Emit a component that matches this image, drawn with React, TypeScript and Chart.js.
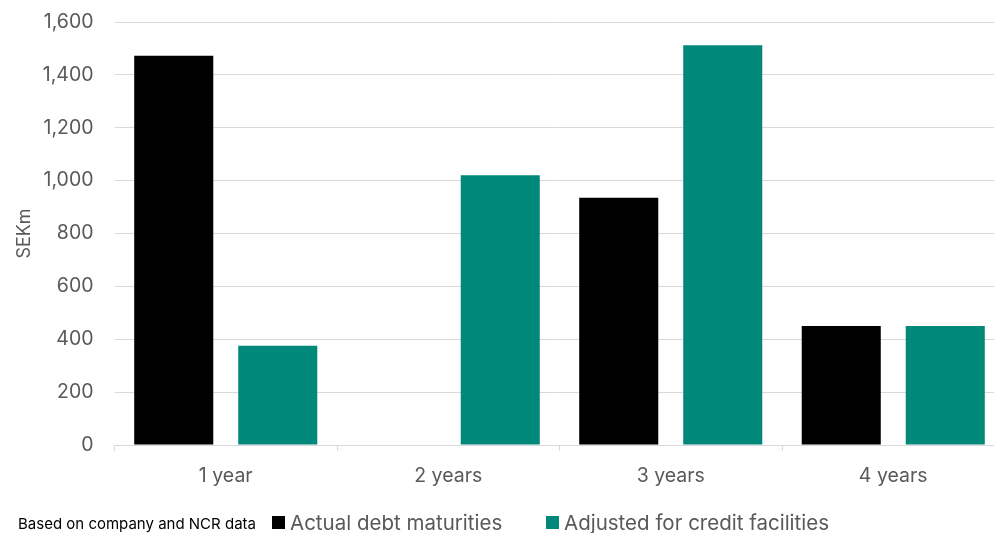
import React, { useEffect, useRef } from "react";
import { Chart, registerables } from "chart.js";

Chart.register(...registerables);

const categories = ["1 year", "2 years", "3 years", "4 years"];
const actualDebt = [1472, 0, 935, 450];
const adjustedCredit = [375, 1020, 1512, 450];
const seriesLabels = ["Actual debt maturities", "Adjusted for credit facilities"];
const seriesColors = ["#000000", "#00887a"];
const yTicks = [0, 200, 400, 600, 800, 1000, 1200, 1400, 1600];
const footnote = "Based on company and NCR data";

const FONT = "Inter, 'Noto Sans', sans-serif";
const GREY = "#595959";

export default function App() {
  const ref = useRef<HTMLCanvasElement | null>(null);
  useEffect(() => {
    if (!ref.current) return;
    const chart = new Chart(ref.current, {
      type: "bar",
      data: {
        labels: categories,
        datasets: [
          { label: seriesLabels[0], data: actualDebt, backgroundColor: seriesColors[0], categoryPercentage: 0.935, barPercentage: 0.76 },
          { label: seriesLabels[1], data: adjustedCredit, backgroundColor: seriesColors[1], categoryPercentage: 0.935, barPercentage: 0.76 },
        ],
      },
      options: {
        animation: false,
        responsive: false,
        maintainAspectRatio: false,
        layout: { padding: { top: 22, right: 5.5, left: 0, bottom: 0 } },
        plugins: { legend: { display: false }, tooltip: { enabled: false } },
        scales: {
          x: {
            grid: { drawOnChartArea: false, color: "#d9d9d9", tickLength: 6, offset: true },
            border: { color: "#d9d9d9", width: 1 },
            ticks: { color: GREY, font: { family: FONT, size: 19.5 }, padding: 13 },
            afterFit: (s: any) => { s.height = 88; s.paddingLeft = 0; s.paddingRight = 0; },
          },
          y: {
            min: 0,
            max: 1600,
            afterBuildTicks: (s: any) => { s.ticks = yTicks.map((v) => ({ value: v })); },
            grid: { color: "#d9d9d9", drawTicks: false, lineWidth: 1 },
            border: { display: false },
            ticks: {
              color: GREY,
              font: { family: FONT, size: 19.5 },
              padding: 21,
              callback: (v: any) => Number(v).toLocaleString("en-US"),
            },
            title: { display: true, text: "SEKm", color: GREY, font: { family: FONT, size: 18 }, padding: { top: 14, bottom: 0 } },
            afterFit: (s: any) => { s.width = 114.5; s.paddingTop = 0; s.paddingBottom = 0; },
          },
        },
      },
    });
    return () => chart.destroy();
  }, []);

  return (
    <div style={{ position: "absolute", left: 0, top: 0, width: 1010, height: 533, overflow: "hidden" }}>
      <canvas ref={ref} width={1010} height={533} style={{ display: "block" }} />
      <div style={{ position: "absolute", left: 18, top: 514, fontFamily: FONT, fontSize: 15, color: "#000", whiteSpace: "nowrap" }}>
        {footnote}
      </div>
      {seriesLabels.map((lab, i) => (
        <div key={lab} style={{ position: "absolute", left: i === 0 ? 272 : 546, top: 510, display: "flex", alignItems: "center", fontFamily: FONT, fontSize: 20.5, color: GREY, whiteSpace: "nowrap" }}>
          <span style={{ width: 13, height: 13, background: seriesColors[i], display: "inline-block", marginRight: 5 }} />
          {lab}
        </div>
      ))}
    </div>
  );
}
